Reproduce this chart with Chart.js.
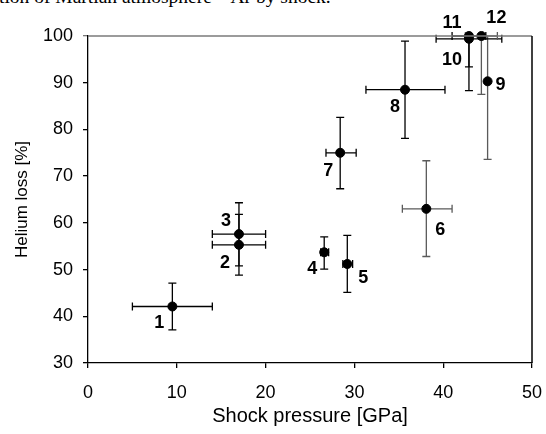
<!DOCTYPE html>
<html>
<head>
<meta charset="utf-8">
<script src="https://cdn.jsdelivr.net/npm/chart.js@4.4.1/dist/chart.umd.min.js"></script>
<style>
  body { margin: 0; background: #fff; }
  #wrap { position: relative; width: 546px; height: 434px; overflow: hidden; }
  #caption {
    position: absolute; left: -1px; top: -13px;
    font: 19.5px "Liberation Serif", "Times New Roman", serif;
    line-height: 20px; color: #000; white-space: nowrap;
  }
  canvas { position: absolute; left: 0; top: 0; }
</style>
</head>
<body>
<div id="wrap">
  <div id="caption">tion of Martian atmosphere ⁴⁰Ar by shock.</div>
  <canvas id="chart" width="546" height="434"></canvas>
</div>
<script>
// sample numbers
const pointIds = ["1", "2", "3", "4", "5", "6", "7", "8", "9", "10", "11", "12"];
// shock pressure [GPa] and its error range
const pressure = [9.5, 17.0, 17.0, 26.6, 29.2, 38.1, 28.4, 35.7, 45.0, 42.9, 42.9, 44.3];
const pressureLow = [5.0, 14.0, 14.0, 26.2, 28.7, 35.4, 26.8, 31.3, null, 39.2, 41.0, 42.5];
const pressureHigh = [14.0, 20.0, 20.0, 27.1, 29.8, 41.0, 30.2, 40.2, null, 46.6, 44.8, 46.1];
// helium loss [%] and its error range
const heliumLoss = [42.1, 55.3, 57.6, 53.7, 51.2, 63.0, 75.0, 88.5, 90.3, 99.4, 100, 100];
const heliumLow = [37.1, 48.8, 50.8, 50.1, 45.1, 52.8, 67.3, 78.1, 73.6, 88.3, 93.4, 87.5];
const heliumHigh = [47.1, 61.8, 64.3, 57.0, 57.3, 73.3, 82.6, 98.9, 100, 100, 100, 100];

const xTicks = [0, 10, 20, 30, 40, 50];
const yTicks = [30, 40, 50, 60, 70, 80, 90, 100];

const fontFamily = "'Liberation Sans', Arial, sans-serif";

// where each number label sits relative to its dot (px)
const labelPlacement = [
  [-13, 17], [-14, 18], [-13, -13], [-12, 17], [16, 14], [14, 21],
  [-12, 18], [-10, 17], [13, 4], [-17, 21], [-17, -13], [15, -18],
];
const greyBars = [5, 8, 11];

const errorBars = {
  id: "errorBars",
  beforeDatasetsDraw(chart) {
    const { ctx, scales: { x, y } } = chart;
    const cap = 4;
    ctx.save();
    ctx.lineWidth = 1.3;
    pointIds.forEach((id, i) => {
      ctx.strokeStyle = greyBars.includes(i) ? "#5a5a5a" : "#000";
      const px = x.getPixelForValue(pressure[i]);
      const py = y.getPixelForValue(heliumLoss[i]);
      ctx.beginPath();
      if (pressureLow[i] !== null) {
        const x1 = x.getPixelForValue(pressureLow[i]);
        const x2 = x.getPixelForValue(pressureHigh[i]);
        ctx.moveTo(x1, py); ctx.lineTo(x2, py);
        ctx.moveTo(x1, py - cap); ctx.lineTo(x1, py + cap);
        ctx.moveTo(x2, py - cap); ctx.lineTo(x2, py + cap);
      }
      const y1 = y.getPixelForValue(heliumLow[i]);
      const y2 = y.getPixelForValue(heliumHigh[i]);
      ctx.moveTo(px, y1); ctx.lineTo(px, y2);
      ctx.moveTo(px - cap, y1); ctx.lineTo(px + cap, y1);
      if (heliumHigh[i] < 100) {
        ctx.moveTo(px - cap, y2); ctx.lineTo(px + cap, y2);
      }
      ctx.stroke();
    });
    ctx.restore();
  },
  afterDatasetsDraw(chart) {
    const { ctx, chartArea, scales: { x, y } } = chart;
    ctx.save();
    // frame: grey top, black right
    ctx.lineWidth = 1.5;
    ctx.strokeStyle = "#7a7a7a";
    ctx.beginPath();
    ctx.moveTo(chartArea.left, chartArea.top);
    ctx.lineTo(chartArea.right, chartArea.top);
    ctx.stroke();
    ctx.strokeStyle = "#000";
    ctx.beginPath();
    ctx.moveTo(chartArea.right, chartArea.top);
    ctx.lineTo(chartArea.right, chartArea.bottom);
    ctx.stroke();
    // number labels
    ctx.fillStyle = "#000";
    ctx.font = "bold 18px " + fontFamily;
    ctx.textAlign = "center";
    ctx.textBaseline = "middle";
    pointIds.forEach((id, i) => {
      const px = x.getPixelForValue(pressure[i]);
      const py = y.getPixelForValue(heliumLoss[i]);
      ctx.fillText(id, px + labelPlacement[i][0], py + labelPlacement[i][1]);
    });
    ctx.restore();
  },
};

new Chart(document.getElementById("chart"), {
  type: "scatter",
  data: {
    datasets: [
      {
        data: pressure.map((p, i) => ({ x: p, y: heliumLoss[i] })),
        backgroundColor: "#000",
        borderColor: "#000",
        pointRadius: 4.5,
        pointHoverRadius: 4.5,
        clip: false,
      },
    ],
  },
  options: {
    responsive: false,
    animation: false,
    events: [],
    layout: { padding: { top: 36, right: 14, left: 0, bottom: 0 } },
    plugins: { legend: { display: false }, tooltip: { enabled: false } },
    scales: {
      x: {
        type: "linear",
        min: 0,
        max: 50,
        afterBuildTicks: (s) => { s.ticks = xTicks.map((v) => ({ value: v })); },
        afterFit: (s) => {
          s.height = 71;
          s.paddingLeft = 0;
          s.paddingRight = 0;
        },
        border: { color: "#000", width: 1.3 },
        grid: { drawOnChartArea: false, drawTicks: true, tickLength: 5, color: "#000", lineWidth: 1.3 },
        ticks: { color: "#000", font: { family: fontFamily, size: 18 }, padding: 14, maxRotation: 0 },
        title: {
          display: true,
          text: "Shock pressure [GPa]",
          color: "#000",
          font: { family: fontFamily, size: 20 },
          padding: { top: 0, bottom: 6 },
        },
      },
      y: {
        type: "linear",
        min: 30,
        max: 100,
        afterBuildTicks: (s) => { s.ticks = yTicks.map((v) => ({ value: v })); },
        afterFit: (s) => {
          s.width = 88;
          s.paddingTop = 0;
          s.paddingBottom = 0;
        },
        border: { color: "#000", width: 1.3 },
        grid: {
          drawOnChartArea: false,
          drawTicks: true,
          tickLength: 5,
          color: (c) => (c.tick && c.tick.value === 100 ? "#7a7a7a" : "#000"),
          lineWidth: 1.3,
        },
        ticks: { color: "#000", font: { family: fontFamily, size: 18 }, padding: 10 },
        title: {
          display: true,
          text: "Helium loss [%]",
          color: "#000",
          font: { family: fontFamily, size: 17 },
          padding: { top: 12, bottom: 0 },
        },
      },
    },
  },
  plugins: [errorBars],
});
</script>
</body>
</html>
